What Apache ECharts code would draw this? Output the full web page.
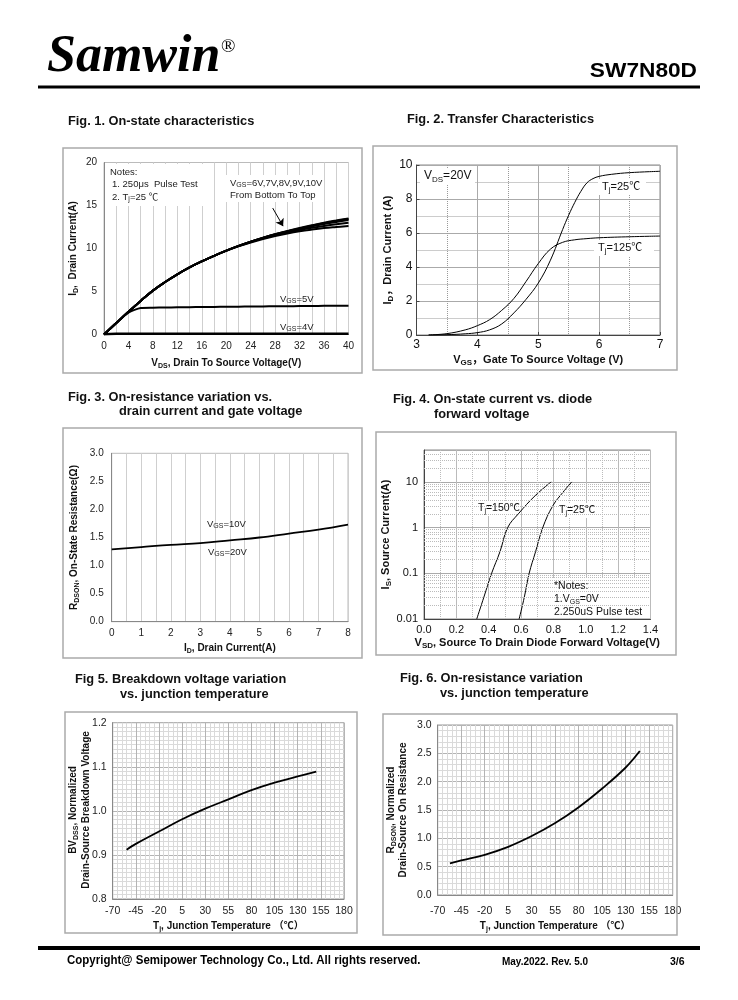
<!DOCTYPE html>
<html><head><meta charset="utf-8">
<script src="https://cdn.jsdelivr.net/npm/echarts@6/dist/echarts.min.js"></script>
<style>html,body{margin:0;padding:0;background:#fff}#c{width:738px;height:1000px}</style>
</head><body><div id="c"></div>
<script>
const FONT = "'Liberation Sans', Arial, 'Noto Sans CJK SC', sans-serif";

// ---------- Fig 1: On-state characteristics ----------
const vdsX = [0, 2, 4, 6, 8, 10, 12, 14, 16, 18, 20, 22, 24, 26, 28, 30, 32, 34, 36, 38, 40];
const id10V = [0, 1.33, 2.64, 3.9, 5.1, 6.1, 7.0, 7.8, 8.5, 9.15, 9.75, 10.3, 10.8, 11.25, 11.67, 12.03, 12.38, 12.7, 13.0, 13.26, 13.5];
const id9V  = [0, 1.33, 2.64, 3.9, 5.1, 6.1, 7.0, 7.8, 8.5, 9.15, 9.75, 10.3, 10.8, 11.24, 11.65, 12.0, 12.34, 12.65, 12.94, 13.2, 13.44];
const id8V  = [0, 1.33, 2.64, 3.9, 5.1, 6.1, 7.0, 7.8, 8.5, 9.15, 9.75, 10.3, 10.79, 11.22, 11.62, 11.96, 12.28, 12.57, 12.84, 13.08, 13.3];
const id7V  = [0, 1.33, 2.64, 3.9, 5.1, 6.1, 7.0, 7.8, 8.5, 9.15, 9.75, 10.28, 10.76, 11.18, 11.55, 11.87, 12.15, 12.4, 12.62, 12.82, 13.0];
const id6V  = [0, 1.33, 2.64, 3.9, 5.1, 6.1, 7.0, 7.8, 8.5, 9.15, 9.73, 10.25, 10.7, 11.1, 11.45, 11.75, 12.0, 12.2, 12.37, 12.5, 12.62];
const id5V  = [0, 1.33, 2.55, 3.08, 3.12, 3.14, 3.16, 3.18, 3.2, 3.21, 3.22, 3.24, 3.25, 3.27, 3.28, 3.29, 3.3, 3.31, 3.33, 3.34, 3.35];
const id4V  = [0.02, 0.08, 0.08, 0.08, 0.08, 0.08, 0.08, 0.08, 0.08, 0.08, 0.08, 0.08, 0.08, 0.08, 0.08, 0.08, 0.08, 0.08, 0.08, 0.08, 0.08];

// ---------- Fig 2: Transfer characteristics ----------
const vgs25X = [3.2, 3.5, 3.8, 4.0, 4.2, 4.4, 4.6, 4.8, 5.0, 5.2, 5.4, 5.5, 5.6, 5.7, 5.8, 5.9, 6.0, 6.2, 6.5, 7.0];
const id25 = [0, 0.02, 0.07, 0.14, 0.3, 0.65, 1.3, 2.1, 3.05, 4.4, 6.2, 7.05, 7.8, 8.45, 8.95, 9.2, 9.33, 9.45, 9.55, 9.63];
const vgs125X = [3.2, 3.5, 3.8, 4.0, 4.2, 4.4, 4.6, 4.8, 5.0, 5.2, 5.4, 5.6, 5.8, 6.0, 6.5, 7.0];
const id125 = [0, 0.08, 0.3, 0.55, 0.9, 1.45, 2.15, 3.15, 4.2, 5.05, 5.45, 5.6, 5.67, 5.72, 5.78, 5.82];

// ---------- Fig 3: RDS(on) vs drain current ----------
const idX3 = [0, 1, 2, 3, 4, 5, 6, 7, 8];
const rds3 = [1.29, 1.33, 1.37, 1.40, 1.45, 1.50, 1.57, 1.64, 1.73];
const yLabels3 = ['0.0', '0.5', '1.0', '1.5', '2.0', '2.5', '3.0'];

// ---------- Fig 4: Diode forward ----------
const vsd150 = [0.326, 0.37, 0.418, 0.47, 0.517, 0.583, 0.687, 0.786];
const is150 = [0.01, 0.03, 0.1, 0.3, 1, 2, 5, 10];
const vsd25 = [0.588, 0.62, 0.65, 0.69, 0.734, 0.796, 0.86, 0.913];
const is25 = [0.01, 0.03, 0.1, 0.3, 1, 3, 6, 10];
const xLabels4 = ['0.0', '0.2', '0.4', '0.6', '0.8', '1.0', '1.2', '1.4'];
const yTicks4 = [0.01, 0.1, 1, 10];
const yLabels4 = ['0.01', '0.1', '1', '10'];
const yMinor4 = [0.02,0.03,0.04,0.05,0.06,0.07,0.08,0.09,0.2,0.3,0.4,0.5,0.6,0.7,0.8,0.9,2,3,4,5,6,7,8,9,20,30,40];

// ---------- Fig 5: BVDSS vs Tj ----------
const tX5 = [-55, -45, -20, 5, 30, 55, 80, 105, 130, 150];
const bv5 = [0.912, 0.925, 0.953, 0.981, 1.005, 1.026, 1.047, 1.064, 1.078, 1.089];
const yLabels5 = ['0.8', '0.9', '1.0', '1.1', '1.2'];

// ---------- Fig 6: RDS(on) vs Tj ----------
const tX6 = [-57, -45, -20, 5, 30, 55, 80, 105, 130, 145];
const rn6 = [0.56, 0.61, 0.71, 0.85, 1.04, 1.27, 1.55, 1.88, 2.25, 2.54];
const yLabels6 = ['0.0', '0.5', '1.0', '1.5', '2.0', '2.5', '3.0'];

const pairs = (xs, ys) => xs.map((v, i) => [v, ys[i]]);

function nameStyle(fs) {
  return { fontSize: fs, fontWeight: 'bold', fontFamily: FONT, color: '#111', lineHeight: Math.round(fs * 1.3),
    rich: { s: { fontSize: Math.round(fs * 0.7), fontWeight: 'bold', fontFamily: FONT, verticalAlign: 'bottom', lineHeight: Math.round(fs * 0.8), color: '#111' } } };
}
function axis(gi, o) {
  const base = {
    type: 'value', gridIndex: gi,
    axisLine: { show: true, onZero: false, lineStyle: { color: '#888', width: 1 } },
    axisTick: { show: false },
    axisLabel: { color: '#222', fontSize: 10, fontFamily: FONT, margin: 6 },
    splitLine: { show: false },
    nameLocation: 'middle'
  };
  return Object.assign(base, o);
}
const solid = (c) => ({ show: true, lineStyle: { color: c, width: 1, type: 'solid' } });
const dotted = (c) => ({ show: true, lineStyle: { color: c, width: 1, type: 'dotted' } });

function line(xi, data, w, extra) {
  return Object.assign({ type: 'line', xAxisIndex: xi, yAxisIndex: xi, data: data, showSymbol: false, symbol: 'none',
    smooth: 0.4, lineStyle: { color: '#000', width: w }, z: 3, silent: true }, extra || {});
}

const grids = [
  { left: 104, top: 162.5, width: 244.5, height: 172, show: true, borderColor: '#bbb', borderWidth: 1 },
  { left: 416.5, top: 165, width: 243.5, height: 170, show: true, borderColor: '#888', borderWidth: 1 },
  { left: 111.7, top: 453.3, width: 236.3, height: 168.4, show: true, borderColor: '#bbb', borderWidth: 1 },
  { left: 424, top: 450, width: 226.5, height: 169, show: true, borderColor: '#888', borderWidth: 1 },
  { left: 112.7, top: 722.7, width: 231.3, height: 176.3, show: true, borderColor: '#999', borderWidth: 1 },
  { left: 437.7, top: 725, width: 235, height: 170, show: true, borderColor: '#999', borderWidth: 1 }
];

const xAxes = [
  axis(0, { min: 0, max: 40, interval: 4, splitLine: solid('#cfcfcf'), minorTick: { show: false, splitNumber: 2 }, minorSplitLine: solid('#cfcfcf'),
    axisLabel: { color: '#222', fontSize: 10, fontFamily: FONT, margin: 7 },
    name: 'V{s|DS}, Drain To Source Voltage(V)', nameGap: 22, nameTextStyle: nameStyle(10) }),
  axis(1, { min: 3, max: 7, interval: 1, splitLine: solid('#aaa'), minorTick: { show: false, splitNumber: 2 }, minorSplitLine: dotted('#999'),
    axisLine: { show: true, onZero: false, lineStyle: { color: '#444' } },
    axisTick: { show: true, inside: true, length: 3, lineStyle: { color: '#444' } },
    axisLabel: { color: '#111', fontSize: 12, fontFamily: FONT, margin: 4 },
    name: 'V{s|GS}，Gate To Source Voltage (V)', nameGap: 18, nameTextStyle: nameStyle(11) }),
  axis(2, { min: 0, max: 8, interval: 1, splitLine: solid('#cfcfcf'), minorTick: { show: false, splitNumber: 2 }, minorSplitLine: solid('#cfcfcf'),
    axisLabel: { color: '#222', fontSize: 10, fontFamily: FONT, margin: 7 },
    name: 'I{s|D}, Drain Current(A)', nameGap: 20, nameTextStyle: nameStyle(10) }),
  axis(3, { min: 0, max: 1.4, interval: 0.2, splitLine: solid('#bbb'), minorTick: { show: false, splitNumber: 2 }, minorSplitLine: dotted('#bbb'),
    axisLine: { show: true, onZero: false, lineStyle: { color: '#444' } },
    axisLabel: { color: '#111', fontSize: 11, fontFamily: FONT, margin: 5, formatter: (v) => xLabels4[Math.round(v / 0.2)] },
    name: 'V{s|SD}, Source To Drain Diode Forward Voltage(V)', nameGap: 17, nameTextStyle: nameStyle(11) }),
  axis(4, { min: -70, max: 180, interval: 25, splitLine: solid('#b4b4b4'), minorTick: { show: false, splitNumber: 5 }, minorSplitLine: solid('#dadada'),
    axisLabel: { color: '#222', fontSize: 10.5, fontFamily: FONT, margin: 7 },
    name: 'T{s|j}, Junction Temperature （℃）', nameGap: 21, nameTextStyle: nameStyle(10) }),
  axis(5, { min: -70, max: 180, interval: 25, splitLine: solid('#b4b4b4'), minorTick: { show: false, splitNumber: 5 }, minorSplitLine: solid('#dadada'),
    axisLabel: { color: '#222', fontSize: 10.5, fontFamily: FONT, margin: 11 },
    name: 'T{s|j}, Junction Temperature （℃）', nameGap: 25, nameTextStyle: nameStyle(10) })
];

const yAxes = [
  axis(0, { min: 0, max: 20, interval: 5, axisLabel: { color: '#222', fontSize: 10, fontFamily: FONT, margin: 7 },
    name: 'I{s|D},  Drain Current(A)', nameGap: 24, nameRotate: 90, nameTextStyle: nameStyle(10) }),
  axis(1, { min: 0, max: 10, interval: 2, splitLine: solid('#aaa'), minorTick: { show: false, splitNumber: 2 }, minorSplitLine: dotted('#999'),
    axisLine: { show: true, onZero: false, lineStyle: { color: '#444' } },
    axisTick: { show: true, inside: true, length: 3, lineStyle: { color: '#444' } },
    axisLabel: { color: '#111', fontSize: 12, fontFamily: FONT, margin: 4 },
    name: 'I{s|D}，Drain Current (A)', nameGap: 18, nameRotate: 90, nameTextStyle: nameStyle(11) }),
  axis(2, { min: 0, max: 3, interval: 0.5, axisLabel: { color: '#222', fontSize: 10, fontFamily: FONT, margin: 8, formatter: (v) => yLabels3[Math.round(v / 0.5)] },
    name: 'R{s|DSON}, On-State Resistance(Ω)', nameGap: 31, nameRotate: 90, nameTextStyle: nameStyle(10) }),
  axis(3, { type: 'log', logBase: 10, min: 0.01, max: 50, splitLine: solid('#aaa'),
    axisLine: { show: true, onZero: false, lineStyle: { color: '#444' } },
    axisLabel: { color: '#111', fontSize: 11, fontFamily: FONT, margin: 6, showMaxLabel: false,
      formatter: (v) => { for (let i = 0; i < yTicks4.length; i++) { if (Math.abs(Math.log10(v) - Math.log10(yTicks4[i])) < 1e-6) return yLabels4[i]; } return ''; } },
    name: 'I{s|S}, Source Current(A)', nameGap: 24, nameRotate: 90, nameTextStyle: nameStyle(11) }),
  axis(4, { min: 0.8, max: 1.2, interval: 0.1, splitLine: solid('#b4b4b4'), minorTick: { show: false, splitNumber: 10 }, minorSplitLine: solid('#dadada'),
    axisLabel: { color: '#222', fontSize: 10.5, fontFamily: FONT, margin: 6, formatter: (v) => yLabels5[Math.round((v - 0.8) / 0.1)] } }),
  axis(5, { min: 0, max: 3, interval: 0.5, splitLine: solid('#b4b4b4'), minorTick: { show: false, splitNumber: 5 }, minorSplitLine: solid('#dadada'),
    axisLabel: { color: '#222', fontSize: 10.5, fontFamily: FONT, margin: 6, formatter: (v) => yLabels6[Math.round(v / 0.5)] } })
];

const series = [
  line(0, pairs(vdsX, id6V), 2),
  line(0, pairs(vdsX, id7V), 2),
  line(0, pairs(vdsX, id8V), 2),
  line(0, pairs(vdsX, id9V), 2),
  line(0, pairs(vdsX, id10V), 2, {
    markLine: { silent: true, animation: false, symbol: ['none', 'arrow'], symbolSize: 7, label: { show: false },
      lineStyle: { color: '#000', width: 1, type: 'solid' },
      data: [[{ coord: [27.6, 14.7] }, { coord: [29.3, 12.6] }]] } }),
  line(0, pairs(vdsX, id5V), 2, { smooth: 0.2 }),
  line(0, pairs(vdsX, id4V), 2.5, { smooth: false }),
  line(1, pairs(vgs25X, id25), 1),
  line(1, pairs(vgs125X, id125), 1),
  line(2, pairs(idX3, rds3), 1.8),
  line(3, [[0, 0.01]], 0, { z: 1, lineStyle: { opacity: 0 },
    markLine: { silent: true, animation: false, symbol: ['none', 'none'], label: { show: false },
      lineStyle: { color: '#bbb', width: 1, type: 'dotted' }, data: yMinor4.map((v) => ({ yAxis: v })) } }),
  line(3, pairs(vsd150, is150), 1),
  line(3, pairs(vsd25, is25), 1),
  line(4, pairs(tX5, bv5), 1.8),
  line(5, pairs(tX6, rn6), 1.8)
];

// ---------- page graphics ----------
const g = [];
function rich(fs, bold) {
  const fw = bold ? 'bold' : 'normal';
  return {
    n: { fontSize: fs, fontFamily: FONT, fontWeight: fw, lineHeight: Math.round(fs * 1.3) },
    s: { fontSize: Math.round(fs * 0.7), fontFamily: FONT, fontWeight: fw, verticalAlign: 'bottom', lineHeight: Math.round(fs * 0.8) }
  };
}
function txt(x, y, text, fs, o) {
  o = o || {};
  const st = {
    text: text, x: 0, y: 0,
    font: (o.italic ? 'italic ' : '') + (o.bold ? 'bold ' : '') + fs + 'px ' + (o.family || FONT),
    fill: o.color || '#111',
    align: o.align || 'left', textAlign: o.align || 'left',
    verticalAlign: 'middle', textVerticalAlign: 'middle'
  };
  if (o.rich) st.rich = rich(fs, o.bold);
  g.push({ type: 'text', x: x, y: y, z: 10, silent: true, scaleX: o.sx || 1, rotation: o.rot || 0, style: st });
}
function rect(x, y, w, h, style, z) {
  g.push({ type: 'rect', silent: true, z: z == null ? 1 : z, shape: { x: x, y: y, width: w, height: h }, style: style });
}

// header
txt(47, 58, 'Samwin', 52, { bold: true, italic: true, family: "'Liberation Serif', 'Times New Roman', serif", color: '#000' });
txt(221, 47, '®', 19, { family: "'Liberation Serif', serif", color: '#000' });
txt(697, 71, 'SW7N80D', 21, { bold: true, align: 'right', color: '#000', sx: 1.08 });
rect(38, 85.5, 662, 3, { fill: '#000' }, 5);

// footer
rect(38, 946, 662, 4, { fill: '#000' }, 5);
txt(67, 961, 'Copyright@ Semipower Technology Co., Ltd. All rights reserved.', 12.5, { bold: true, color: '#000', sx: 0.92 });
txt(502, 962, 'May.2022. Rev. 5.0', 10.5, { bold: true, color: '#000', sx: 0.95 });
txt(670, 962, '3/6', 10.5, { bold: true, color: '#000' });

// figure titles
const TF = 12.8;
txt(68, 121, 'Fig. 1. On-state characteristics', TF, { bold: true });
txt(407, 119, 'Fig. 2. Transfer Characteristics', TF, { bold: true });
txt(68, 397, 'Fig. 3. On-resistance variation vs.', TF, { bold: true });
txt(119, 411, 'drain current and gate voltage', TF, { bold: true });
txt(393, 399, 'Fig. 4. On-state current vs. diode', TF, { bold: true });
txt(434, 414, 'forward voltage', TF, { bold: true });
txt(75, 679, 'Fig 5. Breakdown voltage variation', TF, { bold: true });
txt(120, 694, 'vs. junction temperature', TF, { bold: true });
txt(400, 678, 'Fig. 6. On-resistance variation', TF, { bold: true });
txt(440, 693, 'vs. junction temperature', TF, { bold: true });

// chart boxes
const box = { fill: 'none', stroke: '#aaa', lineWidth: 1.5 };
rect(63, 148, 299, 225, box, 5);
rect(373, 146, 304, 224, box, 5);
rect(63, 428, 299, 230, box, 5);
rect(376, 432, 300, 223, box, 5);
rect(65, 712, 292, 221, box, 5);
rect(383, 714, 294, 221, box, 5);

// y-axis titles of Fig 5 / Fig 6 (two lines, rotated)
txt(73, 810, '{n|BV}{s|DSS}{n|, Normalized}', 10, { bold: true, rich: true, align: 'center', rot: Math.PI / 2 });
txt(86, 810, 'Drain-Source Breakdown Voltage', 10, { bold: true, align: 'center', rot: Math.PI / 2 });
txt(391, 810, '{n|R}{s|DSON}{n|, Normalized}', 10, { bold: true, rich: true, align: 'center', rot: Math.PI / 2 });
txt(403, 810, 'Drain-Source On Resistance', 10, { bold: true, align: 'center', rot: Math.PI / 2 });

// Fig 1 annotations
rect(105, 164, 101, 42, { fill: '#fff' }, 1);
rect(226, 175, 97, 27, { fill: '#fff' }, 1);
txt(110, 172, 'Notes:', 9.5, { color: '#222' });
txt(112, 184.5, '1. 250μs  Pulse Test', 9.5, { color: '#222' });
txt(112, 197, '{n|2. T}{s|j}{n|=25 ℃}', 9.5, { color: '#222', rich: true });
txt(230, 183, '{n|V}{s|GS}{n|=6V,7V,8V,9V,10V}', 9.5, { color: '#222', rich: true });
txt(230, 195, 'From Bottom To Top', 9.5, { color: '#222' });
txt(280, 299, '{n|V}{s|GS}{n|=5V}', 9.5, { color: '#222', rich: true });
txt(280, 327, '{n|V}{s|GS}{n|=4V}', 9.5, { color: '#222', rich: true });

// Fig 2 annotations
rect(420, 168, 55, 16, { fill: '#fff' }, 1);
txt(424, 176, '{n|V}{s|DS}{n|=20V}', 12, { color: '#111', rich: true });
rect(598, 179, 48, 16, { fill: '#fff' }, 1);
txt(602, 187, '{n|T}{s|j}{n|=25℃}', 11, { color: '#111', rich: true });
rect(594, 240, 60, 16, { fill: '#fff' }, 1);
txt(598, 248, '{n|T}{s|j}{n|=125℃}', 11, { color: '#111', rich: true });

// Fig 3 annotations
txt(207, 524, '{n|V}{s|GS}{n|=10V}', 9.5, { color: '#222', rich: true });
txt(208, 552, '{n|V}{s|GS}{n|=20V}', 9.5, { color: '#222', rich: true });

// Fig 4 annotations
rect(477, 501, 40, 15, { fill: '#fff' }, 1);
txt(478, 508, '{n|T}{s|j}{n|=150℃}', 10.5, { color: '#111', rich: true });
rect(558, 503, 36, 15, { fill: '#fff' }, 1);
txt(559, 510, '{n|T}{s|j}{n|=25℃}', 10.5, { color: '#111', rich: true });
rect(552, 578, 97, 40, { fill: '#fff' }, 1);
txt(554, 586, '*Notes:', 10.5, { color: '#111' });
txt(554, 599, '{n|1.V}{s|GS}{n|=0V}', 10.5, { color: '#111', rich: true });
txt(554, 612, '2.250uS Pulse test', 10.5, { color: '#111' });

const chart = echarts.init(document.getElementById('c'), null, { renderer: 'canvas' });
chart.setOption({
  animation: false,
  backgroundColor: '#fff',
  grid: grids,
  xAxis: xAxes,
  yAxis: yAxes,
  series: series,
  graphic: { elements: g }
});
</script>
</body></html>
